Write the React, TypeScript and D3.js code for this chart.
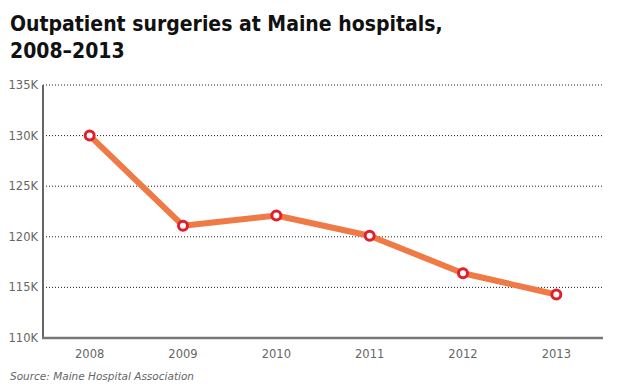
import { useEffect, useRef } from "react";
import * as d3 from "d3";

const years = ["2008", "2009", "2010", "2011", "2012", "2013"];
const surgeries = [130.0, 121.1, 122.1, 120.1, 116.4, 114.3];
const yTicks = [110, 115, 120, 125, 130, 135];

const titleLines = ["Outpatient surgeries at Maine hospitals,", "2008\u20132013"];
const sourceText = "Source: Maine Hospital Association";

export default function App() {
  const ref = useRef<SVGSVGElement>(null);

  useEffect(() => {
    if (!ref.current) return;
    const svg = d3.select(ref.current);
    svg.selectAll("*").remove();

    const width = 624;
    const height = 390;
    const margin = { top: 85, right: 21, bottom: 52, left: 43 };

    const x = d3.scaleBand()
      .domain(years)
      .range([margin.left, width - margin.right]);

    const y = d3.scaleLinear()
      .domain([110, 135])
      .range([height - margin.bottom, margin.top]);

    // title
    svg.append("g")
      .selectAll("text")
      .data(titleLines)
      .enter()
      .append("text")
      .attr("x", 10)
      .attr("y", (d, i) => 31 + i * 27)
      .attr("font-family", "'DejaVu Sans Condensed', 'DejaVu Sans', sans-serif")
      .attr("font-stretch", "condensed")
      .attr("font-weight", "bold")
      .attr("font-size", 21)
      .attr("fill", "#111")
      .text(d => d);

    // grid lines (dotted)
    svg.append("g")
      .selectAll("line")
      .data(yTicks.filter(t => t > 110))
      .enter()
      .append("line")
      .attr("x1", margin.left)
      .attr("x2", width - margin.right)
      .attr("y1", d => y(d))
      .attr("y2", d => y(d))
      .attr("stroke", "#222")
      .attr("stroke-width", 1)
      .attr("stroke-dasharray", "1,2");

    // y tick labels
    svg.append("g")
      .selectAll("text")
      .data(yTicks)
      .enter()
      .append("text")
      .attr("x", margin.left - 5)
      .attr("y", d => y(d))
      .attr("dy", "0.35em")
      .attr("text-anchor", "end")
      .attr("font-family", "DejaVu Sans, Verdana, sans-serif")
      .attr("font-size", 11.5)
      .attr("fill", "#666")
      .text(d => `${d}K`);

    // x tick labels
    svg.append("g")
      .selectAll("text")
      .data(years)
      .enter()
      .append("text")
      .attr("x", d => (x(d) ?? 0) + x.bandwidth() / 2)
      .attr("y", height - margin.bottom + 16)
      .attr("dy", "0.35em")
      .attr("text-anchor", "middle")
      .attr("font-family", "DejaVu Sans, Verdana, sans-serif")
      .attr("font-size", 11.5)
      .attr("fill", "#666")
      .text(d => d);

    // axes lines
    svg.append("line")
      .attr("x1", margin.left)
      .attr("x2", margin.left)
      .attr("y1", margin.top)
      .attr("y2", height - margin.bottom + 1)
      .attr("stroke", "#666")
      .attr("stroke-width", 2);
    svg.append("line")
      .attr("x1", margin.left - 1)
      .attr("x2", width - margin.right)
      .attr("y1", height - margin.bottom)
      .attr("y2", height - margin.bottom)
      .attr("stroke", "#777")
      .attr("stroke-width", 2.5);

    const pts = years.map((yr, i) => ({ yr, v: surgeries[i] }));
    const line = d3.line<{ yr: string; v: number }>()
      .x(d => (x(d.yr) ?? 0) + x.bandwidth() / 2)
      .y(d => y(d.v));

    svg.append("path")
      .datum(pts)
      .attr("d", line)
      .attr("fill", "none")
      .attr("stroke", "#F07A45")
      .attr("stroke-width", 6)
      .attr("stroke-linejoin", "round");

    svg.append("g")
      .selectAll("circle")
      .data(pts)
      .enter()
      .append("circle")
      .attr("cx", d => (x(d.yr) ?? 0) + x.bandwidth() / 2)
      .attr("cy", d => y(d.v))
      .attr("r", 4.5)
      .attr("fill", "#fff")
      .attr("stroke", "#E01F2B")
      .attr("stroke-width", 3);

    // source
    svg.append("text")
      .attr("x", 10)
      .attr("y", 380)
      .attr("font-family", "DejaVu Sans, Verdana, sans-serif")
      .attr("font-style", "italic")
      .attr("font-size", 10.5)
      .attr("fill", "#666")
      .text(sourceText);
  }, []);

  return (
    <svg
      ref={ref}
      width={624}
      height={390}
      style={{ position: "absolute", left: 0, top: 0, background: "#fff" }}
    />
  );
}
